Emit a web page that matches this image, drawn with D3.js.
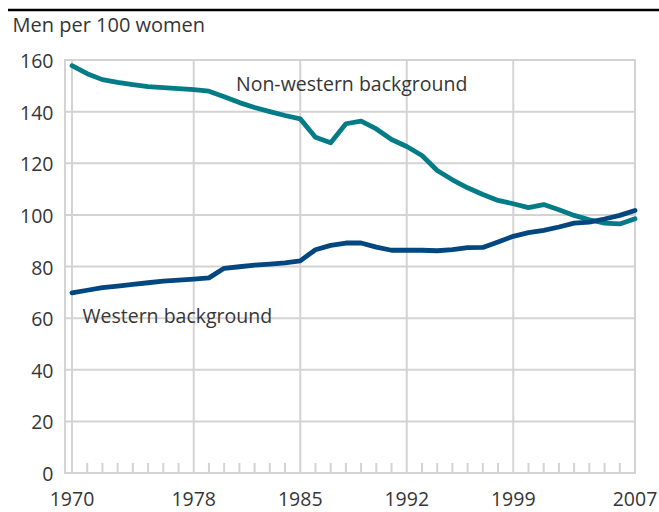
<!DOCTYPE html>
<html>
<head>
<meta charset="utf-8">
<script src="https://cdn.jsdelivr.net/npm/d3@7"></script>
<style>
    html, body { margin: 0; padding: 0; background: #fff; }
    svg text { font-family: "Open Sans", "DejaVu Sans", sans-serif; fill: #363636; }
</style>
</head>
<body>
<svg id="chart" width="659" height="512"></svg>
<script>
// ============================================================================
// Men per 100 women, by country background, 1970-2007
// ============================================================================

const years = d3.range(1970, 2008);

const nonWestern = [
    157.8, 154.7, 152.4, 151.3, 150.5, 149.7, 149.3, 148.9, 148.5, 147.9,
    145.8, 143.5, 141.6, 140.0, 138.5, 137.2, 130.1, 127.9, 135.3, 136.3,
    133.3, 129.2, 126.5, 123.0, 117.2, 113.6, 110.5, 107.9, 105.6, 104.3,
    102.8, 104.0, 102.0, 99.8, 98.1, 96.8, 96.5, 98.5
];

const western = [
    69.8, 70.8, 71.8, 72.4, 73.1, 73.7, 74.3, 74.7, 75.1, 75.6,
    79.3, 79.9, 80.5, 80.9, 81.4, 82.2, 86.5, 88.2, 89.1, 89.1,
    87.5, 86.3, 86.3, 86.3, 86.1, 86.5, 87.3, 87.4, 89.5, 91.7,
    93.1, 94.0, 95.3, 96.8, 97.2, 98.4, 99.8, 101.7
];

const xTickYears = [1970, 1978, 1985, 1992, 1999, 2007];
const yTickValues = [0, 20, 40, 60, 80, 100, 120, 140, 160];

const yAxisTitle = 'Men per 100 women';
const seriesLabels = ['Non-western background', 'Western background'];

const COLORS = { nonWestern: '#037c87', western: '#02477f', grid: '#d3d3d3' };

const svg = d3.select('#chart');

const xScale = d3.scaleLinear().domain([1970, 2007]).range([72, 635]);
const yScale = d3.scaleLinear().domain([0, 160]).range([473, 60]);

const axisLeftX = 65;
const gridRight = 636;

// Top rule
svg.append('line')
    .attr('x1', 8).attr('x2', 659)
    .attr('y1', 10).attr('y2', 10)
    .attr('stroke', '#000')
    .attr('stroke-width', 2.5);

// Axis title
svg.append('text')
    .attr('x', 12.5).attr('y', 32)
    .attr('font-size', 20)
    .text(yAxisTitle);

// Horizontal grid lines
svg.append('g')
    .selectAll('line')
    .data(yTickValues)
    .join('line')
    .attr('x1', axisLeftX).attr('x2', gridRight)
    .attr('y1', d => yScale(d)).attr('y2', d => yScale(d))
    .attr('stroke', COLORS.grid)
    .attr('stroke-width', 2);

// Left axis line
svg.append('line')
    .attr('x1', axisLeftX).attr('x2', axisLeftX)
    .attr('y1', yScale(160) - 1).attr('y2', yScale(0) + 1)
    .attr('stroke', COLORS.grid)
    .attr('stroke-width', 2);

// Vertical grid lines at labelled years
svg.append('g')
    .selectAll('line')
    .data(xTickYears)
    .join('line')
    .attr('x1', d => xScale(d)).attr('x2', d => xScale(d))
    .attr('y1', yScale(160) - 1).attr('y2', yScale(0))
    .attr('stroke', COLORS.grid)
    .attr('stroke-width', 2);

// Minor year ticks
svg.append('g')
    .selectAll('line')
    .data(years.filter(y => !xTickYears.includes(y)))
    .join('line')
    .attr('x1', d => xScale(d)).attr('x2', d => xScale(d))
    .attr('y1', yScale(0) - 10).attr('y2', yScale(0))
    .attr('stroke', COLORS.grid)
    .attr('stroke-width', 2);

// Y tick labels
svg.append('g')
    .selectAll('text')
    .data(yTickValues)
    .join('text')
    .attr('x', 53.5)
    .attr('y', d => yScale(d) + 8)
    .attr('text-anchor', 'end')
    .attr('font-size', 19.5)
    .text(d => d);

// X tick labels
svg.append('g')
    .selectAll('text')
    .data(xTickYears)
    .join('text')
    .attr('x', d => xScale(d))
    .attr('y', 506)
    .attr('text-anchor', 'middle')
    .attr('font-size', 19.5)
    .text(d => d);

// Series lines
const line = d3.line()
    .x((d, i) => xScale(years[i]))
    .y(d => yScale(d));

svg.append('path')
    .datum(nonWestern)
    .attr('fill', 'none')
    .attr('stroke', COLORS.nonWestern)
    .attr('stroke-width', 4.8)
    .attr('stroke-linejoin', 'round')
    .attr('stroke-linecap', 'round')
    .attr('d', line);

svg.append('path')
    .datum(western)
    .attr('fill', 'none')
    .attr('stroke', COLORS.western)
    .attr('stroke-width', 4.8)
    .attr('stroke-linejoin', 'round')
    .attr('stroke-linecap', 'round')
    .attr('d', line);

// Series labels
svg.append('text')
    .attr('x', 236).attr('y', 91)
    .attr('font-size', 19.5)
    .text(seriesLabels[0]);

svg.append('text')
    .attr('x', 82.5).attr('y', 323)
    .attr('font-size', 19.5)
    .text(seriesLabels[1]);
</script>
</body>
</html>
